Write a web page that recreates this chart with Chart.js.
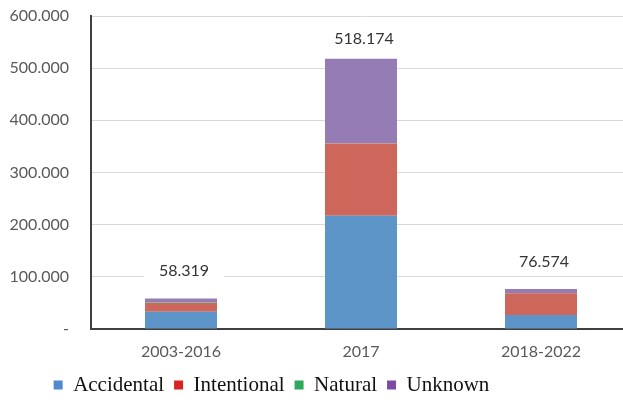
<!DOCTYPE html>
<html>
<head>
<meta charset="utf-8">
<script src="https://cdn.jsdelivr.net/npm/chart.js@4"></script>
<style>
  html, body { margin: 0; padding: 0; background: #fff; overflow: hidden; }
  #wrap { width: 633px; height: 410px; }
</style>
</head>
<body>
<div id="wrap"><canvas id="fireChart"></canvas></div>
<script>
// categories + series
const periods = ["2003-2016", "2017", "2018-2022"];
const accidental = [33000, 217000, 27000];
const intentional = [16800, 138500, 41500];
const natural = [1200, 500, 200];
const unknown = [7319, 162174, 7874];
const yTicks = [0, 100000, 200000, 300000, 400000, 500000, 600000];

// bar fill vs legend swatch colours differ in the original
const barColors = ["#5E95C9", "#CD665B", "#4FAF6E", "#957CB5"];
const legendColors = ["#5288CE", "#D62424", "#2EA85C", "#7C4CA2"];
const labelOffsets = [28, 20, 27];

function fmt(v) {
  if (v === 0) return "-";
  return Math.round(v).toString().replace(/\B(?=(\d{3})+(?!\d))/g, ".");
}

// totals above each stack, with a white box that hides the gridline
const totalLabels = {
  id: "totalLabels",
  afterLayout(chart) {
    // legend sits a bit left of centre in the original
    chart.legend.left -= 44;
    chart.legend.right -= 44;
  },
  afterDatasetsDraw(chart) {
    const ctx = chart.ctx;
    const { x, y } = chart.scales;
    ctx.save();
    ctx.font = "16px Lato";
    ctx.textAlign = "center";
    ctx.textBaseline = "middle";
    periods.forEach((p, i) => {
      let total = 0;
      chart.data.datasets.forEach((ds) => (total += ds.data[i]));
      const text = fmt(total);
      const px = x.getPixelForValue(i) + 3;
      const py = y.getPixelForValue(total) - labelOffsets[i];
      const w = ctx.measureText(text).width + 30;
      ctx.fillStyle = "#fff";
      ctx.fillRect(px - w / 2, py - 11, w, 22);
      ctx.fillStyle = "#333";
      ctx.fillText(text, px, py);
    });
    ctx.restore();
  },
};

const names = ["Accidental", "Intentional", "Natural", "Unknown"];
const series = [accidental, intentional, natural, unknown];

new Chart(document.getElementById("fireChart"), {
  type: "bar",
  data: {
    labels: periods,
    datasets: series.map((s, k) => ({
      label: names[k],
      data: s,
      backgroundColor: barColors[k],
      borderWidth: 0,
      categoryPercentage: 1,
      barPercentage: 0.4,
    })),
  },
  options: {
    responsive: true,
    maintainAspectRatio: false,
    animation: false,
    layout: { padding: { top: 16, right: 2, bottom: 4.5, left: 0 } },
    plugins: {
      tooltip: { enabled: false },
      legend: {
        position: "bottom",
        labels: {
          font: { family: "Liberation Serif", size: 21 },
          color: "#111",
          boxWidth: 9,
          boxHeight: 9,
          padding: 10,
          generateLabels(chart) {
            return chart.data.datasets.map((ds, k) => ({
              text: ds.label,
              fillStyle: legendColors[k],
              strokeStyle: legendColors[k],
              lineWidth: 0,
              datasetIndex: k,
              fontColor: "#111",
            }));
          },
        },
      },
    },
    scales: {
      x: {
        stacked: true,
        grid: { display: false, drawTicks: false },
        border: { display: true, color: "#404040", width: 2 },
        ticks: {
          font: { family: "Lato", size: 16 },
          color: "#595959",
          padding: 13,
        },
        afterFit(s) { s.height = 35.5; },
      },
      y: {
        stacked: true,
        min: 0,
        max: 600000,
        afterBuildTicks(s) { s.ticks = yTicks.map((v) => ({ value: v })); },
        grid: { color: "#d9d9d9", lineWidth: 1, drawTicks: false },
        border: { display: true, color: "#404040", width: 2 },
        ticks: {
          font: { family: "Lato", size: 16 },
          color: "#595959",
          padding: 22,
          callback: (v) => fmt(v),
        },
        afterFit(s) {
          s.width = 91;
          s.paddingTop = 0;
          s.paddingBottom = 0;
        },
      },
    },
  },
  plugins: [totalLabels],
});
</script>
</body>
</html>
